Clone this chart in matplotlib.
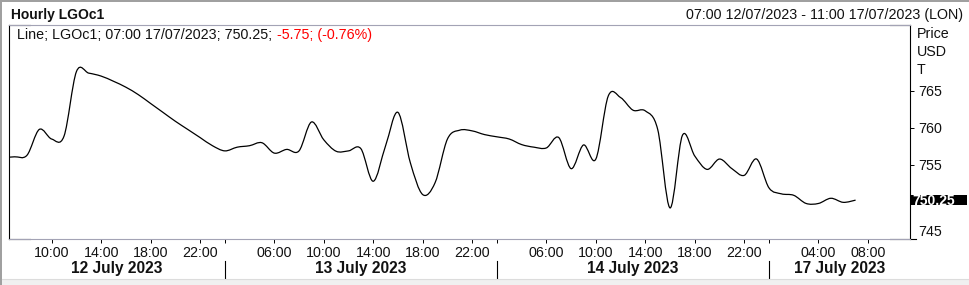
import numpy as np
import matplotlib
matplotlib.use("Agg")
import matplotlib.pyplot as plt
from matplotlib.path import Path
from matplotlib.patches import PathPatch, Rectangle
import matplotlib.transforms as mtransforms
from matplotlib.lines import Line2D

plt.rcParams['font.family'] = ['Liberation Sans', 'DejaVu Sans']

# ---------------- data ----------------
# hourly LGOc1 prices on trading-bar index (index -1 = bar before 07:00 12/07)
prices = [756.0, 756.1, 756.3, 759.8, 758.5, 758.9, 767.6, 767.4, 767.0, 766.3,
          765.5, 764.5, 763.3, 762.1, 760.9, 759.8, 758.7, 757.6, 756.9, 757.4,
          757.6, 758.0, 756.6, 757.1, 756.9, 760.8, 758.4, 756.85, 756.9, 757.2,
          752.8, 757.6, 762.1, 755.3, 751.0, 752.6, 758.5, 759.7, 759.6, 759.1,
          758.8, 758.5, 757.75, 757.4, 757.3, 758.7, 754.5, 757.7, 755.8, 764.3,
          764.1, 762.4, 762.3, 759.8, 749.2, 759.0, 756.2, 754.4, 755.8, 754.5,
          753.6, 755.8, 751.9, 751.1, 750.9, 749.8, 749.8, 750.5, 749.95, 750.25]
first_index = -1

tick_idx = [3, 7, 11, 15, 17, 21, 25, 29, 33, 37, 39, 43, 47, 51, 55, 59, 61, 65, 69]
tick_labels = ["10:00", "14:00", "18:00", "22:00", "", "06:00", "10:00", "14:00", "18:00",
               "22:00", "", "06:00", "10:00", "14:00", "18:00", "22:00", "", "04:00", "08:00"]
day_sep_idx = [17, 39, 61]
day_labels = ["12 July 2023", "13 July 2023", "14 July 2023", "17 July 2023"]

y_ticks = [745, 755, 760, 765]
y_labels = ["745", "755", "760", "765"]
unit_labels = ["Price", "USD", "T"]

title = "Hourly LGOc1"
range_text = "07:00 12/07/2023 - 11:00 17/07/2023 (LON)"
legend_black = "Line; LGOc1; 07:00 17/07/2023; 750.25;"
legend_red = "-5.75; (-0.76%)"
last_label = "750.25"

# ---------------- figure ----------------
W, H = 969, 285
FS = 10.3
fig = plt.figure(figsize=(W / 100, H / 100), dpi=100)
fig.patch.set_facecolor('white')

def fx(px):
    return px / W

def fy(py):
    return 1 - py / H

ax_l, ax_r, ax_t, ax_b = 9, 910, 25, 239
ax = fig.add_axes([fx(ax_l), fy(ax_b), fx(ax_r - ax_l), (ax_b - ax_t) / H])
ax.set_facecolor('white')
ax.set_xlim(-0.45, 72.4)
ax.set_ylim(745, 773.9)

# smooth line (Catmull-Rom -> Bezier, drawn by matplotlib Path)
x = np.arange(len(prices)) + first_index
y = np.asarray(prices, dtype=float)
verts = [(x[0], y[0])]
codes = [Path.MOVETO]
n = len(x)
for i in range(n - 1):
    p0 = i - 1 if i > 0 else i
    p3 = i + 2 if i + 2 < n else i + 1
    c1 = (x[i] + (x[i + 1] - x[p0]) / 6, y[i] + (y[i + 1] - y[p0]) / 6)
    c2 = (x[i + 1] - (x[p3] - x[i]) / 6, y[i + 1] - (y[p3] - y[i]) / 6)
    verts += [c1, c2, (x[i + 1], y[i + 1])]
    codes += [Path.CURVE4] * 3
ax.add_patch(PathPatch(Path(verts, codes), fill=False, ec='black', lw=0.9))

# spines
lavender = '#a3a3b5'
for s in ['top', 'bottom']:
    ax.spines[s].set_color(lavender)
    ax.spines[s].set_linewidth(0.8)
for s in ['left', 'right']:
    ax.spines[s].set_color('black')
    ax.spines[s].set_linewidth(0.8)
axw = ax_r - ax_l
for (x0, x1, yy) in [(0, 21 / axw, 0), (0, 21 / axw, 1), (1 - 20 / axw, 1 + 6 / axw, 0), (1 - 20 / axw, 1, 1)]:
    ax.add_line(Line2D([x0, x1], [yy, yy], transform=ax.transAxes, color='black', lw=0.8, clip_on=False))

# x ticks
ax.set_xticks(tick_idx)
ax.set_xticklabels(tick_labels)
ax.tick_params(axis='x', direction='out', length=2.6, width=0.7, color='black', pad=2.2,
               labelsize=FS, labelcolor='#111111')

# y ticks on right
ax.yaxis.tick_right()
ax.set_yticks(y_ticks)
ax.set_yticklabels(y_labels)
ax.tick_params(axis='y', direction='out', length=3.1, width=0.7, color='black', pad=2.5,
               labelsize=FS, labelcolor='#111111')
for lab, v in zip(ax.get_yticklabels(), y_ticks):
    if v == ax.get_ylim()[0]:
        lab.set_verticalalignment('bottom')

# unit labels
for k, t in enumerate(unit_labels):
    fig.text(fx(917), fy(38.3 + 18 * k), t, fontsize=FS, color='#111111', va='baseline', ha='left')

# day labels and separators
bt = mtransforms.blended_transform_factory(ax.transData, fig.transFigure)
bounds = [ax.get_xlim()[0]] + day_sep_idx + [ax.get_xlim()[1]]
for k, lab in enumerate(day_labels):
    xc = (bounds[k] + bounds[k + 1]) / 2
    ax.text(xc, fy(273.3), lab, transform=bt, fontsize=11.2, fontweight='bold',
            ha='center', va='baseline', color='#111111')
for s in day_sep_idx:
    ax.add_line(Line2D([s, s], [fy(260.7), fy(277.7)], transform=bt, color='black', lw=0.8, clip_on=False))

# header texts
fig.text(fx(11), fy(19), title, fontsize=10, fontweight='bold', va='baseline', ha='left', color='#111111')
fig.text(fx(963), fy(19), range_text, fontsize=FS, va='baseline', ha='right', color='#111111')
t1 = fig.text(fx(17.3), fy(39.3), legend_black, fontsize=FS, va='baseline', ha='left', color='#111111')
red = matplotlib.text.Annotation(legend_red, xy=(1, 0), xycoords=t1, xytext=(3.0, 0),
                                 textcoords='offset points', va='bottom', ha='left',
                                 color='#ff0000', fontsize=FS)
red.set_figure(fig)
fig.texts.append(red)

# last value box on right axis
last = prices[-1]
yt = ax.get_yaxis_transform()
px_per_unit = (ax_b - ax_t) / (ax.get_ylim()[1] - ax.get_ylim()[0])
box_h = 10.6 / px_per_unit
ax.add_patch(Rectangle((1 + 0.7 / axw, last - box_h / 2), 56 / axw, box_h, transform=yt,
                       facecolor='black', edgecolor='none', clip_on=False, zorder=5))
ax.text(1 + 2.0 / axw, last, last_label, transform=mtransforms.offset_copy(yt, fig, y=-5, units='dots'),
        color='white', fontsize=10, fontweight='bold', va='baseline', ha='left', zorder=6)

# outer frame decorations
fig.patches.append(Rectangle((0, 0), fx(2), 1, transform=fig.transFigure, facecolor='#a0a0a0',
                             edgecolor='none', figure=fig))
fig.patches.append(Rectangle((0, fy(1.5)), 1, 1.5 / H, transform=fig.transFigure, facecolor='#a0a0a0',
                             edgecolor='none', figure=fig))
fig.patches.append(Rectangle((fx(2), 0), 1, 6 / H, transform=fig.transFigure, facecolor='#f0f0f0',
                             edgecolor='none', figure=fig))
fig.add_artist(Line2D([fx(2), 1], [fy(279), fy(279)], transform=fig.transFigure, color='#dcdcdc', lw=0.8))

fig.savefig('out.png', dpi=100, facecolor='white')
